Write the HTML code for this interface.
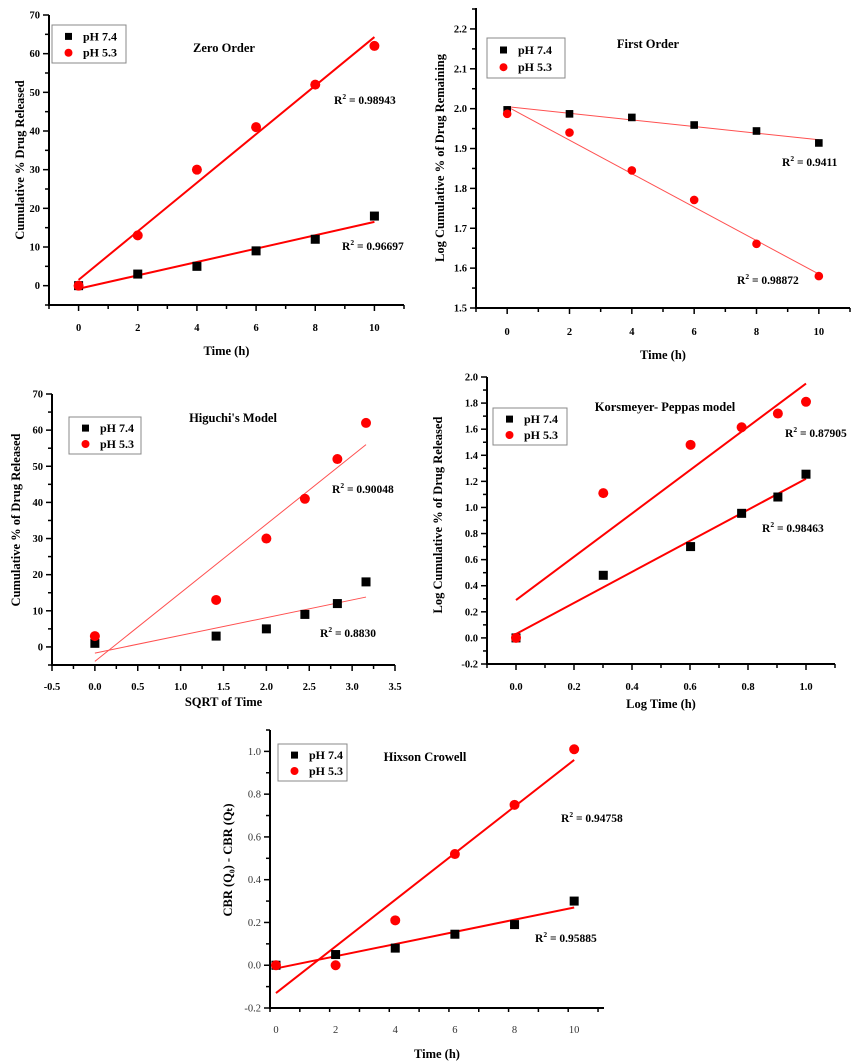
<!DOCTYPE html>
<html><head><meta charset="utf-8">
<style>
body{margin:0;background:#fff;}
svg{display:block;font-family:"Liberation Serif",serif;font-weight:bold;}
</style></head>
<body>
<svg id="fig" width="853" height="1061" viewBox="0 0 853 1061"></svg>
<script>
// ---- data ----
const zeroTime=[0,2,4,6,8,10];
const zeroPh74=[0,3,5,9,12,18];
const zeroPh53=[0,13,30,41,52,62];
const zeroFit74=[-0.8,16.5];
const zeroFit53=[1.5,64.3];

const firstTime=[0,2,4,6,8,10];
const firstPh74=[1.997,1.987,1.978,1.959,1.944,1.914];
const firstPh53=[1.987,1.94,1.845,1.771,1.661,1.58];
const firstFit74=[2.005,1.922];
const firstFit53=[2.005,1.585];

const higSqrt=[0,1.414,2,2.449,2.828,3.162];
const higPh74=[1,3,5,9,12,18];
const higPh53=[3,13,30,41,52,62];
const higFit74=[-1.7,13.8];
const higFit53=[-4,56];

const kpLogT=[0,0.301,0.602,0.778,0.903,1];
const kpPh74=[0,0.48,0.70,0.955,1.08,1.255];
const kpPh53=[0,1.11,1.48,1.615,1.72,1.81];
const kpFit74=[0.03,1.22];
const kpFit53=[0.29,1.95];

const hcTime=[0,2,4,6,8,10];
const hcPh74=[0,0.05,0.08,0.145,0.19,0.30];
const hcPh53=[0,0,0.21,0.52,0.75,1.01];
const hcFit74=[-0.015,0.27];
const hcFit53=[-0.13,0.96];

const NS="http://www.w3.org/2000/svg";
const svg=document.getElementById('fig');
function mk(tag,attrs,parent,text){const e=document.createElementNS(NS,tag);for(const k in attrs)e.setAttribute(k,attrs[k]);if(text!==undefined)e.textContent=text;(parent||svg).appendChild(e);return e;}

const panels=[
 {id:'zero-order',px:[49,404],py:[305,15],xr:[-1,11],yr:[-5,70],xt:[0,2,4,6,8,10],xminor:1,yt:[0,10,20,30,40,50,60,70],yminor:5,ydec:0,xdec:0,
  x:zeroTime,a:zeroPh74,b:zeroPh53,fa:zeroFit74,fb:zeroFit53,fx:[0,10],thin:false,
  title:'Zero Order',tx:224,ty:52,xlabel:'Time (h)',xly:355,ylabel:'Cumulative % Drug Released',ylx:20,yly:160,
  leg:[52,25,74,38],legLab:['pH 7.4','pH 5.3'],
  r2:[['0.96697',342,250],['0.98943',334,104]],tickY:331},
 {id:'first-order',px:[476,850],py:[308,8],xr:[-1,11],yr:[1.5,2.2525],xt:[0,2,4,6,8,10],xminor:1,yt:[1.5,1.6,1.7,1.8,1.9,2.0,2.1,2.2],yminor:0.05,ydec:1,xdec:0,
  x:firstTime,a:firstPh74,b:firstPh53,fa:firstFit74,fb:firstFit53,fx:[0,10],thin:true,small:true,
  title:'First Order',tx:648,ty:48,xlabel:'Time (h)',xly:359,ylabel:'Log  Cumulative % of Drug Remaining',ylx:440,yly:158,
  leg:[487,38,78,40],legLab:['pH 7.4','pH 5.3'],
  r2:[['0.9411',782,166],['0.98872',737,284]],tickY:335},
 {id:'higuchi',px:[52,395],py:[665,394],xr:[-0.5,3.5],yr:[-5,70],xt:[-0.5,0,0.5,1,1.5,2,2.5,3,3.5],xminor:0.25,yt:[0,10,20,30,40,50,60,70],yminor:5,ydec:0,xdec:1,
  x:higSqrt,a:higPh74,b:higPh53,fa:higFit74,fb:higFit53,fx:[0,3.162],thin:true,
  title:"Higuchi's Model",tx:233,ty:422,xlabel:'SQRT of Time',xly:706,ylabel:'Cumulative % of Drug Released',ylx:16,yly:520,
  leg:[69,417,72,37],legLab:['pH 7.4','pH 5.3'],
  r2:[['0.8830',320,637],['0.90048',332,493]],tickY:690},
 {id:'korsmeyer-peppas',px:[487,835],py:[664,377],xr:[-0.1,1.1],yr:[-0.2,2.0],xt:[0,0.2,0.4,0.6,0.8,1.0],xminor:0.1,yt:[-0.2,0,0.2,0.4,0.6,0.8,1.0,1.2,1.4,1.6,1.8,2.0],yminor:0.1,ydec:1,xdec:1,
  x:kpLogT,a:kpPh74,b:kpPh53,fa:kpFit74,fb:kpFit53,fx:[0,1],thin:false,
  title:'Korsmeyer- Peppas model',tx:665,ty:411,xlabel:'Log Time (h)',xly:708,ylabel:'Log Cumulative % of Drug Released',ylx:438,yly:515,
  leg:[493,408,74,37],legLab:['pH 7.4','pH  5.3'],
  r2:[['0.98463',762,532],['0.87905',785,437]],tickY:690},
 {id:'hixson-crowell',px:[270,604],py:[1008,730],xr:[-0.2,11],yr:[-0.2,1.1],xt:[0,2,4,6,8,10],xminor:1,yt:[-0.2,0,0.2,0.4,0.6,0.8,1.0],yminor:0.1,ydec:1,xdec:0,
  x:hcTime,a:hcPh74,b:hcPh53,fa:hcFit74,fb:hcFit53,fx:[0,10],thin:false,light:true,
  title:'Hixson Crowell',tx:425,ty:761,xlabel:'Time (h)',xly:1058,ylabel:'CBR (Q\u2080) - CBR (Q\u209C)',ylx:228,yly:860,
  leg:[278,744,69,37],legLab:['pH 7.4','pH  5.3'],
  r2:[['0.95885',535,942],['0.94758',561,822]],tickY:1033}
];

panels.forEach(p=>{
  const g=mk('g',{});
  
  
  const sx=v=>p.px[0]+(v-p.xr[0])/(p.xr[1]-p.xr[0])*(p.px[1]-p.px[0]);
  const sy=v=>p.py[0]+(v-p.yr[0])/(p.yr[1]-p.yr[0])*(p.py[1]-p.py[0]);
  const ax=mk('line',{x1:p.px[0],y1:p.py[0],x2:p.px[1],y2:p.py[0],stroke:'#000','stroke-width':2},g);
  
  const ay=mk('line',{x1:p.px[0],y1:p.py[0]+1,x2:p.px[0],y2:p.py[1],stroke:'#000','stroke-width':2},g);
  
  for(let v=p.xr[0];v<=p.xr[1]+1e-9;v+=p.xminor){
    const X=sx(v);const major=p.xt.some(t=>Math.abs(t-v)<1e-6);
    mk('line',{x1:X,y1:p.py[0],x2:X,y2:p.py[0]+(major?6:4),stroke:'#000','stroke-width':1.5},g);
  }
  p.xt.forEach(t=>{
    const e=mk('text',{x:sx(t),y:p.tickY,'text-anchor':'middle','font-size':10.5,fill:p.light?'#333':'#000','font-weight':p.light?'normal':'bold'},g,t.toFixed(p.xdec));
    
  });
  for(let v=p.yr[0];v<=p.yr[1]+1e-9;v+=p.yminor){
    const Y=sy(v);const major=p.yt.some(t=>Math.abs(t-v)<1e-6);
    mk('line',{x1:p.px[0],y1:Y,x2:p.px[0]-(major?6:4),y2:Y,stroke:'#000','stroke-width':1.5},g);
  }
  p.yt.forEach(t=>{
    const e=mk('text',{x:p.px[0]-9,y:sy(t)+3.5,'text-anchor':'end','font-size':10.5,fill:p.light?'#333':'#000','font-weight':p.light?'normal':'bold'},g,t.toFixed(p.ydec));
    
  });
  const w=p.thin?1:2;
  [[p.fa,'fit-line-ph74'],[p.fb,'fit-line-ph53']].forEach(([f,n])=>{
    const l=mk('line',{x1:sx(p.fx[0]),y1:sy(f[0]),x2:sx(p.fx[1]),y2:sy(f[1]),stroke:p.thin?'#ff5050':'#f00','stroke-width':w},g);
    
  });
  const hs=p.small?3.8:4.5, cr=p.small?4.3:5;
  p.x.forEach((xv,i)=>{
    const s=mk('rect',{x:sx(xv)-hs,y:sy(p.a[i])-hs,width:hs*2,height:hs*2,fill:'#000'},g);
    
  });
  p.x.forEach((xv,i)=>{
    const c=mk('circle',{cx:sx(xv),cy:sy(p.b[i]),r:cr,fill:'#f00'},g);
    
  });
  const t=mk('text',{x:p.tx,y:p.ty,'text-anchor':'middle','font-size':12.5},g,p.title);
  
  const xl=mk('text',{x:(p.px[0]+p.px[1])/2,y:p.xly,'text-anchor':'middle','font-size':12.5},g,p.xlabel);
  
  const yl=mk('text',{x:p.ylx,y:p.yly,'text-anchor':'middle','font-size':12.5,transform:`rotate(-90 ${p.ylx} ${p.yly})`,dy:4},g,p.ylabel);
  
  const [lx,ly,lw,lh]=p.leg;
  const lg=mk('g',{},g);
  
  mk('rect',{x:lx,y:ly,width:lw,height:lh,fill:'#fff',stroke:'#888','stroke-width':1},lg);
  mk('rect',{x:lx+13,y:ly+lh*0.3-3.5,width:7,height:7,fill:'#000'},lg);
  mk('circle',{cx:lx+16.5,cy:ly+lh*0.73,r:4,fill:'#f00'},lg);
  const e1=mk('text',{x:lx+31,y:ly+lh*0.3+4,'font-size':12},lg,p.legLab[0]);
  
  const e2=mk('text',{x:lx+31,y:ly+lh*0.73+4,'font-size':12},lg,p.legLab[1]);
  
  p.r2.forEach(([val,x,y])=>{
    const r=mk('text',{x:x,y:y,'font-size':11.5},g);
    
    mk('tspan',{},r,'R');
    mk('tspan',{dy:-5,'font-size':7.5},r,'2');
    mk('tspan',{dy:5},r,' = '+val);
  });
});
</script>
</body></html>
